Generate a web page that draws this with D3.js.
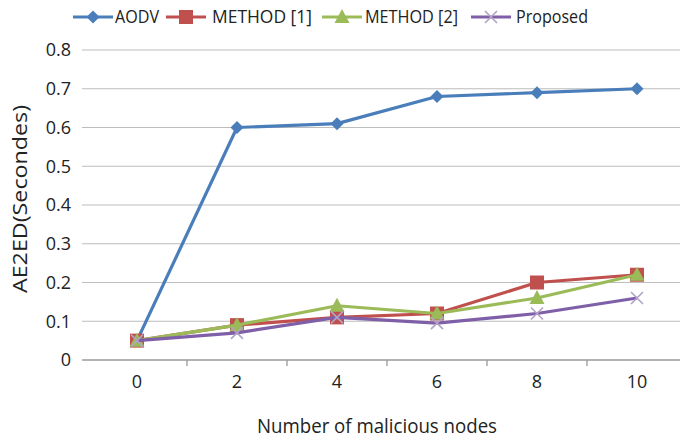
<!DOCTYPE html>
<html lang="en">
<head>
    <meta charset="UTF-8">
    <title>AE2ED vs malicious nodes</title>
    <script src="https://d3js.org/d3.v7.min.js"></script>
    <style>
        body {
            margin: 0;
            background: #ffffff;
            font-family: 'Open Sans', 'Noto Sans', sans-serif;
        }
        .grid line { stroke: #bdbdbd; stroke-width: 1.2; }
    </style>
</head>
<body>
    <div id="chart"></div>

    <script>
        // Data
        const nodes = ["0", "2", "4", "6", "8", "10"];
        const seriesNames = ["AODV", "METHOD [1]", "METHOD [2]", "Proposed"];
        const aodv = [0.05, 0.60, 0.61, 0.68, 0.69, 0.70];
        const method1 = [0.05, 0.09, 0.11, 0.12, 0.20, 0.22];
        const method2 = [0.05, 0.09, 0.14, 0.12, 0.16, 0.22];
        const proposed = [0.05, 0.07, 0.11, 0.095, 0.12, 0.16];
        const yTicks = [0, 0.1, 0.2, 0.3, 0.4, 0.5, 0.6, 0.7, 0.8];

        const colors = ["#4a7ebb", "#c0504d", "#9bbb59", "#7f5fa8"];
        const markerColors = ["#4a7ebb", "#c0504d", "#9bbb59", "#b3a2c7"];
        const shapes = ["diamond", "square", "triangle", "cross"];
        const allSeries = [aodv, method1, method2, proposed];

        const width = 680, height = 442;
        const margin = { top: 50, right: -7, bottom: 82, left: 87 };

        const svg = d3.select("#chart").append("svg")
            .attr("width", width)
            .attr("height", height);

        const x = d3.scaleBand()
            .domain(nodes)
            .range([margin.left, width - margin.right]);

        const y = d3.scaleLinear()
            .domain([0, 0.8])
            .range([height - margin.bottom, margin.top]);

        // horizontal gridlines
        svg.append("g")
            .attr("class", "grid")
            .selectAll("line")
            .data(yTicks.slice(1))
            .enter().append("line")
            .attr("x1", margin.left - 5)
            .attr("x2", width)
            .attr("y1", d => y(d))
            .attr("y2", d => y(d));

        // y axis labels
        svg.append("g")
            .selectAll("text")
            .data(yTicks)
            .enter().append("text")
            .attr("x", margin.left - 16)
            .attr("y", d => y(d))
            .attr("dy", "0.35em")
            .attr("text-anchor", "end")
            .attr("font-size", 18)
            .attr("fill", "#222")
            .text(d => d === 0 ? "0" : d3.format(".1f")(d));

        // x axis line + ticks between categories
        const xAxis = svg.append("g");
        xAxis.append("line")
            .attr("x1", margin.left - 5)
            .attr("x2", width)
            .attr("y1", y(0))
            .attr("y2", y(0))
            .attr("stroke", "#9a9a9a")
            .attr("stroke-width", 1.3);
        xAxis.selectAll("line.tick")
            .data(nodes.slice(1))
            .enter().append("line")
            .attr("class", "tick")
            .attr("x1", d => x(d))
            .attr("x2", d => x(d))
            .attr("y1", y(0))
            .attr("y2", y(0) + 6)
            .attr("stroke", "#9a9a9a")
            .attr("stroke-width", 1.3);
        xAxis.selectAll("text")
            .data(nodes)
            .enter().append("text")
            .attr("x", d => x(d) + x.bandwidth() / 2)
            .attr("y", y(0) + 28)
            .attr("text-anchor", "middle")
            .attr("font-size", 18)
            .attr("fill", "#222")
            .text(d => d);

        // axis titles
        svg.append("text")
            .attr("x", 257)
            .attr("y", 433)
            .attr("font-size", 20)
            .attr("textLength", 240)
            .attr("lengthAdjust", "spacingAndGlyphs")
            .attr("fill", "#222")
            .text("Number of malicious nodes");

        svg.append("text")
            .attr("transform", "translate(27,293) rotate(-90)")
            .attr("font-size", 20)
            .attr("textLength", 188)
            .attr("lengthAdjust", "spacingAndGlyphs")
            .attr("fill", "#222")
            .text("AE2ED(Secondes)");

        const line = d3.line()
            .x((d, i) => x(nodes[i]) + x.bandwidth() / 2)
            .y(d => y(d));

        function drawMarker(g, shape, cx, cy, color) {
            if (shape === "diamond") {
                g.append("path")
                    .attr("d", `M${cx},${cy - 6.5}L${cx + 6.5},${cy}L${cx},${cy + 6.5}L${cx - 6.5},${cy}Z`)
                    .attr("fill", color);
            } else if (shape === "square") {
                g.append("rect")
                    .attr("x", cx - 7).attr("y", cy - 7)
                    .attr("width", 14).attr("height", 14)
                    .attr("fill", color);
            } else if (shape === "triangle") {
                g.append("path")
                    .attr("d", `M${cx},${cy - 8}L${cx + 7.5},${cy + 6}L${cx - 7.5},${cy + 6}Z`)
                    .attr("fill", color);
            } else {
                g.append("path")
                    .attr("d", `M${cx - 6},${cy - 6}L${cx + 6},${cy + 6}M${cx - 6},${cy + 6}L${cx + 6},${cy - 6}`)
                    .attr("stroke", color)
                    .attr("stroke-width", 1.6)
                    .attr("fill", "none");
            }
        }

        // series lines and markers
        allSeries.forEach((vals, s) => {
            const g = svg.append("g");
            g.append("path")
                .datum(vals)
                .attr("d", line)
                .attr("fill", "none")
                .attr("stroke", colors[s])
                .attr("stroke-width", 3.2)
                .attr("stroke-linejoin", "round");
            vals.forEach((v, i) => {
                drawMarker(g, shapes[s], x(nodes[i]) + x.bandwidth() / 2, y(v), markerColors[s]);
            });
        });

        // legend (line start, text start, text width)
        const legendLineX = [73, 166, 322, 471];
        const legendTextX = [115, 212, 365, 516];
        const legendTextW = [44, 100, 93, 72];
        const legend = svg.append("g");
        seriesNames.forEach((name, s) => {
            const lx = legendLineX[s], ly = 17;
            legend.append("line")
                .attr("x1", lx).attr("x2", lx + 40)
                .attr("y1", ly).attr("y2", ly)
                .attr("stroke", colors[s])
                .attr("stroke-width", 3.2);
            drawMarker(legend, shapes[s], lx + 20, ly, markerColors[s]);
            legend.append("text")
                .attr("x", legendTextX[s])
                .attr("y", ly)
                .attr("dy", "0.35em")
                .attr("font-size", 18)
                .attr("textLength", legendTextW[s])
                .attr("lengthAdjust", "spacingAndGlyphs")
                .attr("fill", "#222")
                .text(name);
        });
    </script>
</body>
</html>
